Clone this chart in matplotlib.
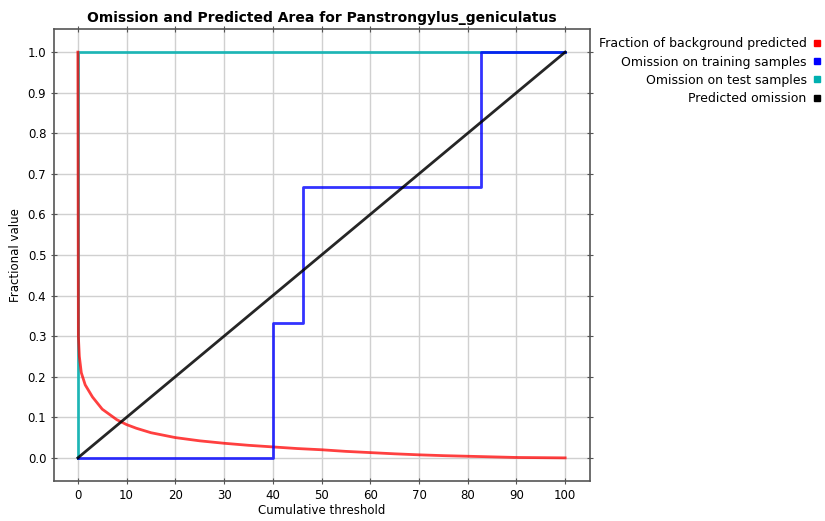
import matplotlib
matplotlib.use("Agg")
import matplotlib.pyplot as plt
from matplotlib.lines import Line2D

# fraction of background predicted
bg_x = [0, 0.1, 0.3, 0.7, 1.5, 3, 5, 8, 10, 12, 15, 20, 25, 30, 35, 40, 45,
        50, 55, 60, 65, 70, 75, 80, 85, 90, 95, 100]
bg_y = [1.0, 0.30, 0.25, 0.21, 0.18, 0.15, 0.12, 0.094, 0.082, 0.073, 0.062,
        0.050, 0.042, 0.036, 0.031, 0.027, 0.023, 0.020, 0.016, 0.013, 0.010,
        0.0075, 0.0055, 0.004, 0.0025, 0.001, 0.0005, 0.0]

# omission on training samples (step)
train_x = [0, 40, 40, 46.3, 46.3, 82.7, 82.7, 100]
train_y = [0, 0, 0.333, 0.333, 0.667, 0.667, 1.0, 1.0]

# omission on test samples
test_x = [0, 0, 100]
test_y = [0, 1.0, 1.0]

# predicted omission
pred_x = [0, 100]
pred_y = [0, 1.0]

labels = ["Fraction of background predicted", "Omission on training samples",
          "Omission on test samples", "Predicted omission"]
colors = ["#ff0000", "#0000ff", "#00b0b0", "#000000"]

fig = plt.figure(figsize=(8.25, 5.21), dpi=100)
ax = fig.add_axes([54 / 825, 40 / 521, 536 / 825, 452 / 521])

ax.plot(test_x, test_y, color=colors[2], lw=2, alpha=0.85)
ax.plot(bg_x, bg_y, color=colors[0], lw=2, alpha=0.75)
ax.plot(train_x, train_y, color=colors[1], lw=2, alpha=0.8)
ax.plot(pred_x, pred_y, color=colors[3], lw=2, alpha=0.85)

ax.set_xlim(-4.9, 105.1)
ax.set_ylim(-0.057, 1.057)
ax.set_xticks(range(0, 101, 10))
ax.set_yticks([i / 10 for i in range(11)])
ax.set_yticklabels([f"{i / 10:.1f}" for i in range(11)])
ax.grid(True, color="#d0d0d0", lw=1)
ax.set_axisbelow(True)
ax.tick_params(labelsize=8.5, length=4, color="#555555", direction="inout",
               top=True, right=True)
for s in ax.spines.values():
    s.set_color("#555555")
    s.set_linewidth(1.2)

ax.set_title("Omission and Predicted Area for Panstrongylus_geniculatus",
             fontsize=10, fontweight="bold", pad=5)
ax.set_xlabel("Cumulative threshold", fontsize=8.5, labelpad=2)
ax.set_ylabel("Fractional value", fontsize=8.5, labelpad=4)

handles = [Line2D([], [], ls="none", marker="s", markersize=5, color=c) for c in colors]
fig.legend(handles, labels, loc="upper right", bbox_to_anchor=(1.008, 0.95),
           frameon=False, markerfirst=False, fontsize=9, handlelength=0.6,
           handletextpad=0.5, labelspacing=0.42)

fig.savefig("out.png", dpi=100)
